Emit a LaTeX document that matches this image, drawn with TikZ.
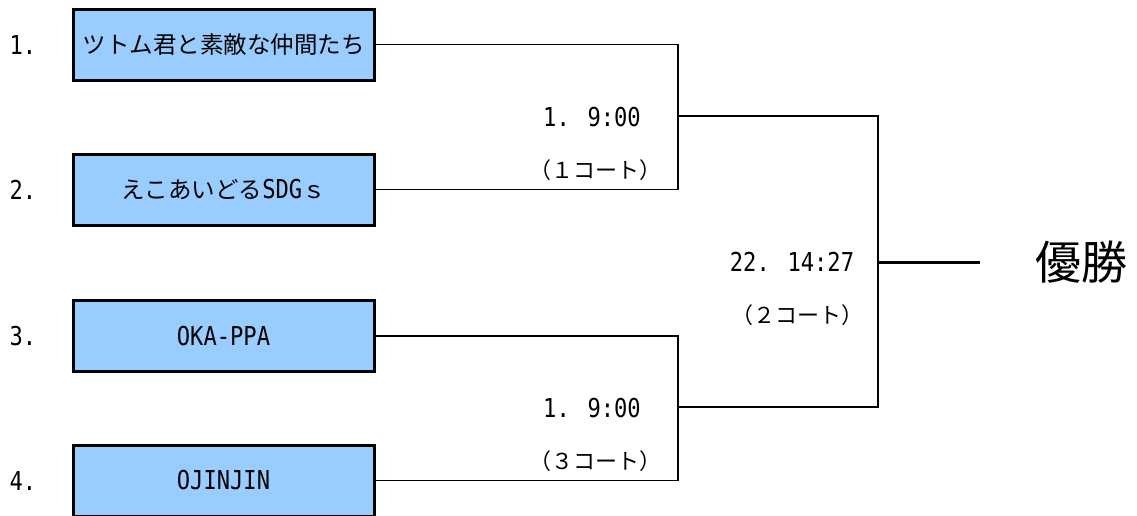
\documentclass[tikz,border=0pt]{standalone}
\usepackage{fontspec}
\setmainfont{Noto Sans CJK JP}
\newfontfamily\monofont[FakeStretch=0.85]{DejaVu Sans Mono}
\definecolor{teamblue}{RGB}{153,204,255}
\begin{document}
\begin{tikzpicture}[x=1pt,y=-1pt,
  team/.style={draw=black,line width=3pt,fill=teamblue,minimum width=301pt,minimum height=71pt,inner sep=0pt,font=\fontsize{23.5}{23.5}\selectfont},
  seed/.style={font=\fontsize{26}{26}\monofont,inner sep=0pt},
  timelbl/.style={font=\fontsize{26}{26}\monofont,inner sep=0pt},
  courtlbl/.style={font=\fontsize{22}{22}\selectfont,inner sep=0pt},
  link/.style={line width=1.6pt},
  finalline/.style={line width=3pt}]
\useasboundingbox (0,0) rectangle (1137,515);
% seeds
\node[seed] (s1) at (23,45) {1.};
\node[seed] (s2) at (23,190) {2.};
\node[seed] (s3) at (23,336) {3.};
\node[seed] (s4) at (23,481) {4.};
% team boxes
\node[team] (b1) at (223.5,44.5) {ツトム君と素敵な仲間たち};
\node[team] (b2) at (223.5,189.5) {えこあいどる{\fontsize{26}{26}\monofont SDG}ｓ};
\node[team] (b3) at (223.5,336) {\fontsize{26}{26}\monofont OKA-PPA};
\node[team] (b4) at (223.5,480.5) {\fontsize{26}{26}\monofont OJINJIN};
% match coordinates
\coordinate (m1) at (678,116);
\coordinate (m2) at (678,407);
\coordinate (f) at (878,262);
\coordinate (win) at (980,262);
% connectors
\draw[link] (b1.east) -- (b1.east -| m1) -- (b2.east -| m1) -- (b2.east);
\draw[link] (b3.east) -- (b3.east -| m1) -- (b4.east -| m1) -- (b4.east);
\draw[link] (m1) -- (m1 -| f) -- (m2 -| f) -- (m2);
\draw[finalline] (f) -- (win);
% labels
\node[timelbl] (t1) at (592,117) {1. 9:00};
\node[courtlbl] (c1) at (595,170) {（１コート）};
\node[timelbl] (t2) at (592,408) {1. 9:00};
\node[courtlbl] (c2) at (595,461) {（３コート）};
\node[timelbl] (t3) at (792,262) {22. 14:27};
\node[courtlbl] (c3) at (797,315) {（２コート）};
\node[font=\fontsize{46}{46}\selectfont,inner sep=0pt] (champ) at (1081,262) {優勝};
\end{tikzpicture}
\end{document}
